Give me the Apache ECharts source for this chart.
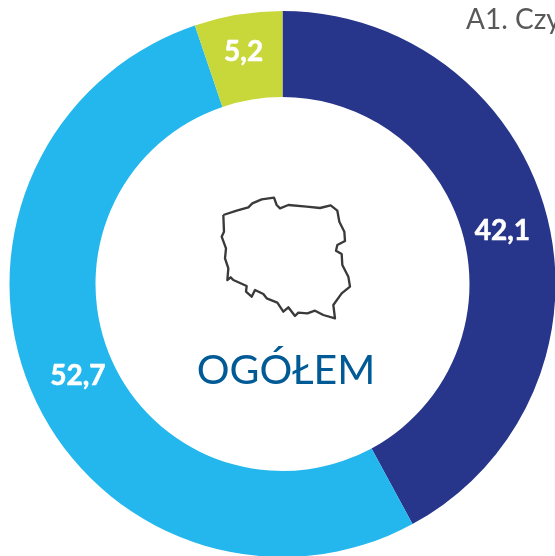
<!DOCTYPE html>
<html><head><meta charset="utf-8">
<style>html,body{margin:0;padding:0;background:#fff}#c{width:555px;height:556px}</style>
<script src="https://cdn.jsdelivr.net/npm/echarts@6/dist/echarts.min.js"></script>
</head><body><div id="c"></div>
<script>
const categories = ['Tak', 'Nie', 'Trudno powiedzieć'];
const values = [42.1, 52.7, 5.2];
const colors = ['#27358A', '#23B7ED', '#C8D73A'];
const labelOffsets = [[-6, 4], [9, -1], [-1, -2]];
const titleText = 'A1. Czy';
const centerText = 'OGÓŁEM';
const outlineTrace = [[70,105],[110,92],[145,82],[157,70],[185,58],[222,53],[230,75],[240,85],[265,75],[320,80],[360,84],[392,76],[412,92],[418,125],[433,155],[435,183],[412,195],[408,212],[425,222],[427,255],[445,290],[450,320],[425,340],[400,375],[405,415],[370,405],[345,392],[322,400],[295,398],[285,408],[265,382],[250,395],[232,368],[200,355],[190,342],[165,330],[155,350],[138,335],[140,318],[100,300],[92,292],[82,300],[85,265],[75,235],[78,205],[65,170],[72,155],[70,105]];
const chart = echarts.init(document.getElementById('c'), null, {renderer:'canvas'});
chart.setOption({
  animation:false,
  graphic:[
    {type:'text',x:466,y:20,style:{text:titleText,font:'28px Lato, "Open Sans", sans-serif',fill:'#595959',verticalAlign:'middle'}},
    {type:'text',x:286,y:371,style:{text:centerText,font:'41px Lato, "Open Sans", sans-serif',fill:'#005A96',align:'center',verticalAlign:'middle'}},
    {type:'polyline',x:200,y:180,scaleX:1/3,scaleY:1/3,shape:{points:outlineTrace},style:{stroke:'#3a3a3a',lineWidth:7,fill:null,lineJoin:'round'}}
  ],
  series:[{
    type:'pie',
    center:[282.5,284],
    radius:[187,273],
    startAngle:90,
    clockwise:true,
    silent:true,
    labelLine:{show:false},
    data:categories.map((n,i)=>({
      name:n,value:values[i],
      itemStyle:{color:colors[i]},
      label:{show:true,position:'inside',offset:labelOffsets[i],
        formatter:()=>String(values[i]).replace('.',','),
        color:'#fff',fontFamily:'Lato, "Open Sans", sans-serif',fontWeight:'bold',fontSize:28,
        textBorderColor:'#fff',textBorderWidth:0.6}
    }))
  }]
});
</script></body></html>
